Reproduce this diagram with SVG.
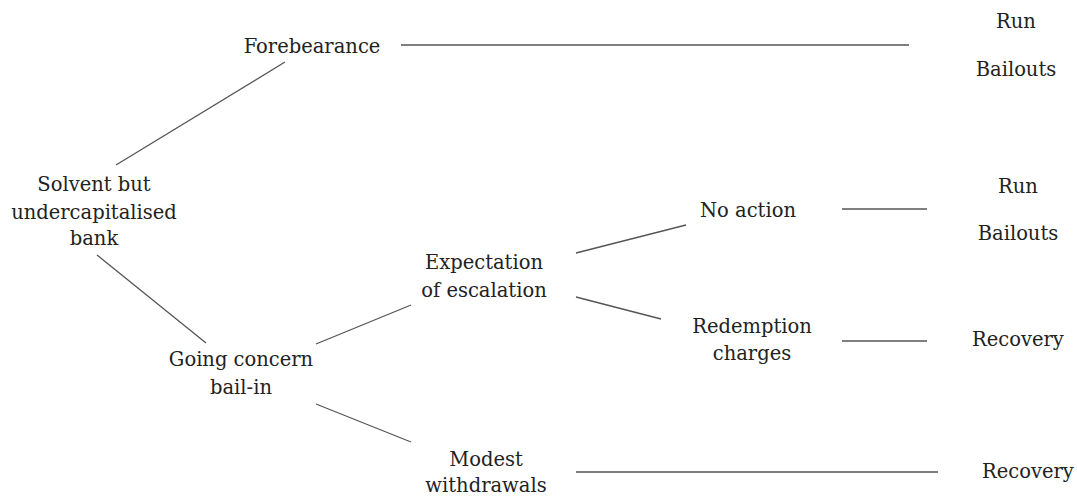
<svg xmlns="http://www.w3.org/2000/svg" width="1077" height="496" viewBox="0 0 1077 496">
<style>
text{font-family:"DejaVu Serif","Liberation Serif",serif;font-size:19.5px;fill:#222;text-anchor:middle}
.c line{stroke:#555;stroke-width:1.3}
</style>
<rect width="1077" height="496" fill="#fff"/>
<g class="c" id="connectors">
<line x1="116" y1="165" x2="285" y2="62"/>
<line x1="401" y1="45" x2="909" y2="45"/>
<line x1="97" y1="255" x2="206" y2="343"/>
<line x1="316" y1="344" x2="411" y2="305"/>
<line x1="316" y1="404" x2="411" y2="442"/>
<line x1="576" y1="472" x2="938" y2="472"/>
<line x1="576" y1="253" x2="686" y2="225"/>
<line x1="576" y1="297" x2="661" y2="319"/>
<line x1="842" y1="209" x2="927" y2="209"/>
<line x1="842" y1="341" x2="927" y2="341"/>
</g>
<g id="solvent"><text x="94" y="191">Solvent but</text><text x="94" y="219">undercapitalised</text><text x="94" y="245">bank</text></g>
<g id="forebearance"><text x="312" y="53">Forebearance</text></g>
<g id="out1"><text x="1016" y="28">Run</text><text x="1016" y="76">Bailouts</text></g>
<g id="going"><text x="241" y="366">Going concern</text><text x="241" y="394">bail-in</text></g>
<g id="expectation"><text x="484" y="269">Expectation</text><text x="484" y="297">of escalation</text></g>
<g id="modest"><text x="486" y="466">Modest</text><text x="486" y="492">withdrawals</text></g>
<g id="out4"><text x="1028" y="478">Recovery</text></g>
<g id="noaction"><text x="748" y="217">No action</text></g>
<g id="out2"><text x="1018" y="193">Run</text><text x="1018" y="240">Bailouts</text></g>
<g id="redemption"><text x="752" y="333">Redemption</text><text x="752" y="360">charges</text></g>
<g id="out3"><text x="1018" y="346">Recovery</text></g>
</svg>
